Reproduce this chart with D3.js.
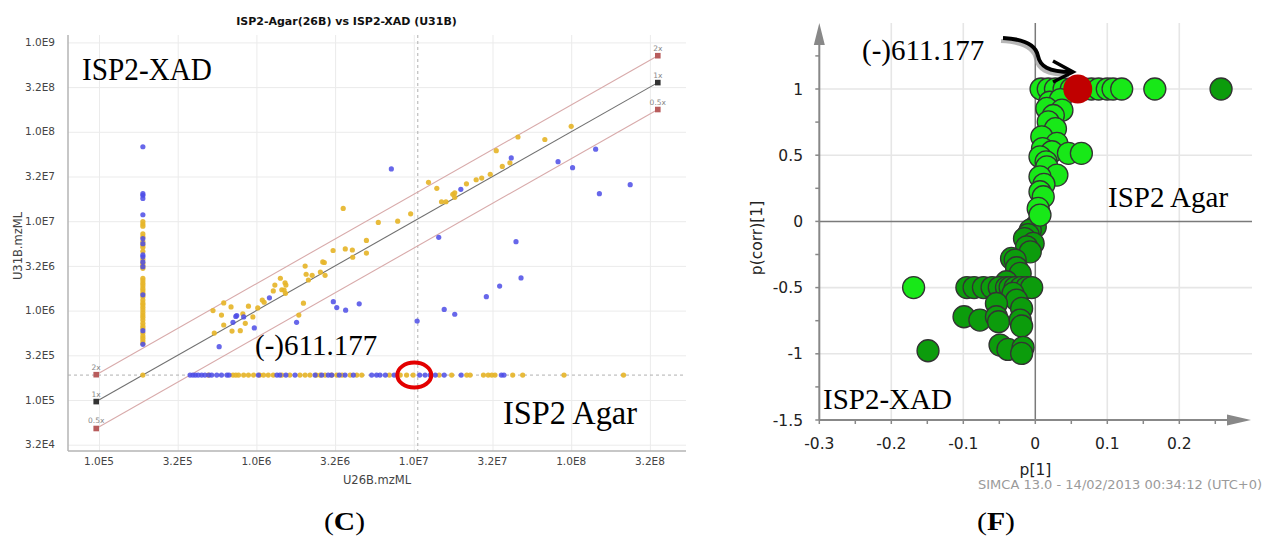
<!DOCTYPE html>
<html><head><meta charset="utf-8">
<script src="https://cdn.jsdelivr.net/npm/d3@7"></script>
<style>body{margin:0;background:#fff;} svg{display:block;}</style>
</head><body>
<svg id="c" width="1270" height="537"></svg>
<script>
// ===== Panel C data (log-log scatter) =====
const titleC = "ISP2-Agar(26B) vs ISP2-XAD (U31B)";
const xTickValues = [1e5, 3.162e5, 1e6, 3.162e6, 1e7, 3.162e7, 1e8, 3.162e8];
const xTickLabels = ["1.0E5","3.2E5","1.0E6","3.2E6","1.0E7","3.2E7","1.0E8","3.2E8"];
const yTickValues = [3.162e4, 1e5, 3.162e5, 1e6, 3.162e6, 1e7, 3.162e7, 1e8, 3.162e8, 1e9];
const yTickLabels = ["3.2E4","1.0E5","3.2E5","1.0E6","3.2E6","1.0E7","3.2E7","1.0E8","3.2E8","1.0E9"];
const floorValue = 1.9e5;          // missing-value floor (dashed horizontal line / column)
const cutoffX = 1.06e7;            // dashed vertical line
const ratios = [2, 1, 0.5];
const ratioLabels = ["2x", "1x", "0.5x"];
const ratioLineStart = 9.6e4, ratioLineEnd = 3.55e8;
const circledX = 1.0e7;            // (-)611.177 highlighted

const yellowColumnY = [9.9e6,9.3e6,8.8e6,7.2e6,6.7e6,5.9e6,5.4e6,5.1e6,4.6e6,3.75e6,3.4e6,3.2e6,2.97e6,2.3e6,2.16e6,2.02e6,1.9e6,1.77e6,1.67e6,1.56e6,1.43e6,1.31e6,1.22e6,1.16e6,1.09e6,1.02e6,9.5e5,8.9e5,8.4e5,7.85e5,7.2e5,6.7e5,6.3e5,5.6e5,5.2e5,4.9e5,4.6e5,4.3e5,1.9e5];
const blueColumnY = [6.8e7,2.03e7,1.95e7,1.8e7,1.18e7,6.4e6,5.6e6,4.2e6,4.0e6,3.5e6,3.1e6,1.5e6,5.96e5,4.2e5];
const yellowRowX = [4.95e5,7.1e5,7.4e5,7.7e5,8.3e5,8.9e5,9.6e5,1.05e6,1.11e6,1.19e6,1.28e6,1.45e6,1.63e6,1.89e6,2.04e6,2.19e6,2.4e6,2.54e6,2.73e6,3.0e6,3.24e6,3.5e6,3.94e6,4.34e6,4.67e6,7.0e6,8.2e6,9.0e6,9.9e6,1.45e7,1.74e7,2.17e7,2.28e7,2.77e7,2.97e7,3.13e7,3.28e7,4.25e7,4.92e7,9.0e7,2.15e8];
const blueRowX = [3.79e5,3.95e5,4.1e5,4.27e5,4.49e5,4.71e5,5.0e5,5.2e5,5.6e5,6.0e5,6.5e5,6.7e5,1.03e6,1.35e6,1.41e6,1.54e6,1.76e6,2.36e6,2.6e6,2.86e6,3.01e6,3.36e6,3.66e6,4.13e6,5.4e6,5.8e6,6.1e6,6.6e6,7.5e6,1.09e7,1.18e7,1.27e7,1.37e7,1.56e7,2.0e7,3.6e7,3.74e7];
const yellowPairs = [[5.3e5,1.0e6],[5.4e5,5.6e5],[6.0e5,8.9e5],[6.2e5,1.22e6],[6.2e5,6.9e5],[6.9e5,1.1e6],[7.0e5,5.9e5],[7.9e5,5.96e5],[8.2e5,9.2e5],[8.5e5,7.2e5],[8.9e5,1.12e6],[9.5e5,8.5e5],[1.02e6,1.07e6],[1.09e6,1.31e6],[1.12e6,1.24e6],[1.28e6,1.66e6],[1.31e6,1.93e6],[1.42e6,2.3e6],[1.45e6,1.71e6],[1.5e6,1.7e6],[1.52e6,2.05e6],[1.54e6,1.93e6],[1.53e6,1.56e6],[1.86e6,8.9e5],[1.99e6,1.21e6],[2.04e6,3.15e6],[2.07e6,2.55e6],[2.14e6,2.2e6],[2.26e6,2.48e6],[2.55e6,2.7e6],[2.64e6,3.5e6],[2.7e6,3.45e6],[2.73e6,2.48e6],[3.07e6,4.7e6],[3.56e6,1.39e7],[3.67e6,4.9e6],[4.07e6,4.76e6],[4.09e6,3.95e6],[5.0e6,6.1e6],[5.0e6,4.4e6],[5.95e6,9.7e6],[7.9e6,1.0e7],[9.55e6,1.21e7],[1.24e7,2.72e7],[1.4e7,2.33e7],[1.5e7,1.65e7],[1.6e7,1.65e7],[1.77e7,2.0e7],[1.82e7,2.08e7],[1.82e7,1.85e7],[2.16e7,2.62e7],[2.49e7,2.91e7],[2.7e7,3.04e7],[3.06e7,3.35e7],[3.34e7,6.15e7],[3.65e7,4.1e7],[4.08e7,4.5e7],[4.59e7,8.75e7],[6.8e7,8.2e7],[1.0e8,1.15e8]];
const bluePairs = [[5.8e5,3.95e5],[7.1e5,7.4e5],[7.4e5,8.6e5],[7.5e5,8.8e5],[8.3e5,8.5e5],[9.7e5,6.4e5],[1.21e6,1.39e6],[1.8e6,7.4e5],[3.08e6,1.26e6],[3.24e6,1.08e6],[3.69e6,1.01e6],[4.5e6,1.19e6],[7.2e6,3.84e7],[1.05e7,7.65e5],[1.44e7,6.6e6],[1.56e7,1.03e6],[1.82e7,9.1e5],[1.99e7,2.27e7],[2.89e7,1.43e6],[3.51e7,1.88e6],[4.16e7,5.1e7],[4.46e7,5.9e6],[4.8e7,2.32e6],[8.25e7,4.63e7],[1.02e8,3.97e7],[1.43e8,6.4e7],[1.51e8,2.03e7],[2.37e8,2.56e7]];

// ===== Panel F data (S-plot) =====
const fXTicks = [-0.3,-0.2,-0.1,0,0.1,0.2];
const fXTickLabels = ["-0.3","-0.2","-0.1","0","0.1","0.2"];
const fYTicks = [-1.5,-1,-0.5,0,0.5,1];
const fYTickLabels = ["-1.5","-1","-0.5","0","0.5","1"];
const fXMinor = [-0.3,-0.25,-0.2,-0.15,-0.1,-0.05,0,0.05,0.1,0.15,0.2,0.25];
const fYMinor = [-1.5,-1.25,-1,-0.75,-0.5,-0.25,0,0.25,0.5,0.75,1,1.25];
const lightP1   = [0.008,0.018,0.028,0.04,0.05,0.068,0.078,0.088,0.1,0.108,0.12,0.166, 0.02,0.035,0.016,0.037,0.025,0.018,0.028,0.009,0.03,0.01,0.023,0.046,0.064,0.0065,0.015,0.016,0.03,0.0065,0.012,0.0065,0.011,0.004,0.0065, -0.169];
const lightPcorr= [1,1,1,1,1,1,1,1,1,1,1,1, 0.9,0.92,0.853,0.84,0.8,0.752,0.7,0.639,0.589,0.55,0.526,0.514,0.514,0.488,0.45,0.412,0.35,0.337,0.28,0.224,0.186,0.098,0.048, -0.5];
const darkP1    = [0.258, 0,-0.007,-0.01,-0.015,-0.003,-0.012,-0.007,-0.033,-0.028,-0.026,-0.021,-0.04, -0.095,-0.085,-0.072,-0.06,-0.05,-0.04,-0.035,-0.028,-0.02,-0.012,-0.005, -0.031,-0.026,-0.054,-0.019,-0.099,-0.077,-0.054,-0.051,-0.021,-0.019,-0.049,-0.038,-0.017,-0.019,-0.149];
const darkPcorr = [1, -0.04,-0.066,-0.1,-0.13,-0.166,-0.192,-0.23,-0.28,-0.292,-0.35,-0.393,-0.456, -0.5,-0.5,-0.5,-0.5,-0.5,-0.5,-0.5,-0.5,-0.5,-0.5,-0.5, -0.544,-0.594,-0.62,-0.657,-0.72,-0.745,-0.72,-0.758,-0.745,-0.79,-0.934,-0.967,-0.952,-0.997,-0.977];
const highlightP1 = [0.059], highlightPcorr = [1];

const svg = d3.select("#c");
const serif = "'Liberation Serif','Times New Roman',serif";
const sans = "'DejaVu Sans',Verdana,sans-serif";

// ================= PANEL C =================
const L = {left:68, right:686, top:35, bottom:451};
const xL = d3.scaleLog().domain([1e5,1e8]).range([99,571.2]);
const yL = d3.scaleLog().domain([1e5,1e9]).range([400,42.4]);
const gC = svg.append("g");

// grid
gC.append("g").attr("transform",`translate(0,${L.bottom})`)
  .call(d3.axisBottom(xL).tickValues(xTickValues).tickFormat("").tickSize(-(L.bottom-L.top)).tickSizeOuter(0))
  .call(g=>{g.select(".domain").remove(); g.selectAll("line").attr("stroke","#ebebeb");});
gC.append("g").attr("transform",`translate(${L.left},0)`)
  .call(d3.axisLeft(yL).tickValues(yTickValues).tickFormat("").tickSize(-(L.right-L.left)).tickSizeOuter(0))
  .call(g=>{g.select(".domain").remove(); g.selectAll("line").attr("stroke","#ebebeb");});

// axis lines
gC.append("line").attr("x1",L.left).attr("x2",L.left).attr("y1",L.top).attr("y2",L.bottom).attr("stroke","#b5b5b5").attr("stroke-width",1.5);
gC.append("line").attr("x1",L.left).attr("x2",L.right).attr("y1",L.bottom).attr("y2",L.bottom).attr("stroke","#b5b5b5").attr("stroke-width",1.5);

// tick labels
gC.selectAll("text.xt").data(xTickValues).join("text").attr("class","xt")
  .attr("x",d=>xL(d)).attr("y",465).attr("text-anchor","middle")
  .attr("font-family",sans).attr("font-size",10.5).attr("fill","#444").text((d,i)=>xTickLabels[i]);
gC.selectAll("text.yt").data(yTickValues).join("text").attr("class","yt")
  .attr("x",55).attr("y",d=>yL(d)).attr("dy","0.35em").attr("text-anchor","end")
  .attr("font-family",sans).attr("font-size",10.5).attr("fill","#444").text((d,i)=>yTickLabels[i]);

// axis titles + title
gC.append("text").attr("x",377).attr("y",484).attr("text-anchor","middle").attr("font-family",sans).attr("font-size",11.5).attr("fill","#444").text("U26B.mzML");
gC.append("text").attr("transform","translate(22,246) rotate(-90)").attr("text-anchor","middle").attr("font-family",sans).attr("font-size",11.5).attr("fill","#444").text("U31B.mzML");
gC.append("text").attr("x",346.5).attr("y",25).attr("text-anchor","middle").attr("font-family",sans).attr("font-weight","bold").attr("font-size",11).attr("fill","#111").text(titleC);

// dashed reference lines
gC.append("line").attr("x1",L.left).attr("x2",L.right).attr("y1",yL(floorValue)).attr("y2",yL(floorValue))
  .attr("stroke","#b0b0b0").attr("stroke-dasharray","3,3");
gC.append("line").attr("x1",xL(cutoffX)).attr("x2",xL(cutoffX)).attr("y1",L.top).attr("y2",L.bottom)
  .attr("stroke","#b0b0b0").attr("stroke-dasharray","3,3");

// ratio lines
const lineColors = ["#d8aaaa","#707070","#d8aaaa"];
const markColors = ["#b85c5c","#333333","#b85c5c"];
ratios.forEach((k,i)=>{
  gC.append("line").attr("x1",xL(ratioLineStart)).attr("y1",yL(k*ratioLineStart))
    .attr("x2",xL(ratioLineEnd)).attr("y2",yL(k*ratioLineEnd)).attr("stroke",lineColors[i]).attr("stroke-width",1.1);
  [ratioLineStart, ratioLineEnd].forEach(xv=>{
    gC.append("rect").attr("x",xL(xv)-2.8).attr("y",yL(k*xv)-2.8).attr("width",5.6).attr("height",5.6).attr("fill",markColors[i]);
    gC.append("text").attr("x",xL(xv)).attr("y",yL(k*xv)-5).attr("text-anchor","middle")
      .attr("font-family",sans).attr("font-size",7.5).attr("fill","#888").text(ratioLabels[i]);
  });
});

// points
const yellowAll = yellowColumnY.map(v=>[floorValue,v]).concat(yellowRowX.map(v=>[v,floorValue])).concat(yellowPairs);
const blueAll = blueColumnY.map(v=>[floorValue,v]).concat(blueRowX.map(v=>[v,floorValue])).concat(bluePairs);
gC.append("g").selectAll("circle").data(yellowAll).join("circle")
  .attr("cx",d=>xL(d[0])).attr("cy",d=>yL(d[1])).attr("r",2.6).attr("fill","#e6b52a").attr("fill-opacity",0.92);
gC.append("g").selectAll("circle").data(blueAll).join("circle")
  .attr("cx",d=>xL(d[0])).attr("cy",d=>yL(d[1])).attr("r",2.6).attr("fill","#4c4ce6").attr("fill-opacity",0.85);

// highlight ellipse
gC.append("ellipse").attr("cx",xL(circledX)+0.5).attr("cy",yL(floorValue)).attr("rx",17).attr("ry",12.5)
  .attr("fill","none").attr("stroke","#e30000").attr("stroke-width",4);

// annotations
gC.append("text").attr("x",82).attr("y",80).attr("font-family",serif).attr("font-size",31).attr("textLength",130).attr("lengthAdjust","spacingAndGlyphs").attr("fill","#000").text("ISP2-XAD");
gC.append("text").attr("x",255).attr("y",355).attr("font-family",serif).attr("font-size",29).attr("fill","#000").text("(-)611.177");
gC.append("text").attr("x",503).attr("y",424).attr("font-family",serif).attr("font-size",33).attr("textLength",134).attr("lengthAdjust","spacingAndGlyphs").attr("fill","#000").text("ISP2 Agar");
const tc = gC.append("text").attr("x",324).attr("y",530).attr("font-family",serif).attr("font-size",25).attr("fill","#000")
  .attr("textLength",41).attr("lengthAdjust","spacingAndGlyphs");
tc.append("tspan").text("(");tc.append("tspan").attr("font-weight","bold").text("C");tc.append("tspan").text(")");

// ================= PANEL F =================
const xF = d3.scaleLinear().domain([-0.3,0.2]).range([819.3,1179.3]);
const yF = d3.scaleLinear().domain([-1.5,1]).range([420,89]);
const F = {left:819.3, right:1252, top:23, bottom:420};
const gF = svg.append("g");

// grid
gF.selectAll("line.gx").data(fXTicks.filter(d=>d!==0 && d!==-0.3)).join("line").attr("class","gx")
  .attr("x1",d=>xF(d)).attr("x2",d=>xF(d)).attr("y1",F.top).attr("y2",F.bottom).attr("stroke","#e6e6e6").attr("stroke-width",1.6);
gF.selectAll("line.gy").data(fYTicks.filter(d=>d!==0 && d!==-1.5)).join("line").attr("class","gy")
  .attr("x1",F.left).attr("x2",F.right).attr("y1",d=>yF(d)).attr("y2",d=>yF(d)).attr("stroke","#e6e6e6").attr("stroke-width",1.6);
// zero lines
gF.append("line").attr("x1",xF(0)).attr("x2",xF(0)).attr("y1",F.top).attr("y2",F.bottom).attr("stroke","#7a7a7a").attr("stroke-width",1.5);
gF.append("line").attr("x1",F.left).attr("x2",F.right).attr("y1",yF(0)).attr("y2",yF(0)).attr("stroke","#7a7a7a").attr("stroke-width",1.5);

// axes with arrows
gF.append("line").attr("x1",F.left).attr("x2",F.left).attr("y1",44).attr("y2",F.bottom).attr("stroke","#888").attr("stroke-width",2);
gF.append("path").attr("d",`M${F.left-5.5},45 L${F.left},23 L${F.left+5.5},45 Z`).attr("fill","#888");
gF.append("line").attr("x1",F.left).attr("x2",1228).attr("y1",F.bottom).attr("y2",F.bottom).attr("stroke","#888").attr("stroke-width",2);
gF.append("path").attr("d",`M1227,${F.bottom-5.5} L1251,${F.bottom} L1227,${F.bottom+5.5} Z`).attr("fill","#888");

// minor ticks
gF.selectAll("line.tx").data(fXMinor).join("line").attr("class","tx")
  .attr("x1",d=>xF(d)).attr("x2",d=>xF(d)).attr("y1",F.bottom).attr("y2",F.bottom+4).attr("stroke","#888").attr("stroke-width",1.5);
gF.selectAll("line.ty").data(fYMinor).join("line").attr("class","ty")
  .attr("x1",F.left-4).attr("x2",F.left).attr("y1",d=>yF(d)).attr("y2",d=>yF(d)).attr("stroke","#888").attr("stroke-width",1.5);

// tick labels
gF.selectAll("text.fx").data(fXTicks).join("text").attr("class","fx")
  .attr("x",d=>xF(d)).attr("y",449).attr("text-anchor","middle").attr("font-family",sans).attr("font-size",15.5).attr("fill","#222")
  .text((d,i)=>fXTickLabels[i]);
gF.selectAll("text.fy").data(fYTicks).join("text").attr("class","fy")
  .attr("x",803).attr("y",d=>yF(d)).attr("dy","0.36em").attr("text-anchor","end").attr("font-family",sans).attr("font-size",15.5).attr("fill","#222")
  .text((d,i)=>fYTickLabels[i]);
gF.append("text").attr("x",1035.5).attr("y",475).attr("text-anchor","middle").attr("font-family",sans).attr("font-size",15.5).attr("fill","#222").text("p[1]");
gF.append("text").attr("transform","translate(762,238) rotate(-90)").attr("text-anchor","middle").attr("font-family",sans).attr("font-size",15.5).attr("fill","#222").text("p(corr)[1]");
gF.append("text").attr("x",1262).attr("y",489).attr("text-anchor","end").attr("font-family",sans).attr("font-size",13).attr("fill","#9a9a9a").text("SIMCA 13.0 - 14/02/2013 00:34:12 (UTC+0)");

// points
const darkData = darkP1.map((v,i)=>[v,darkPcorr[i]]);
const lightData = lightP1.map((v,i)=>[v,lightPcorr[i]]);
gF.append("g").selectAll("circle").data(darkData).join("circle")
  .attr("cx",d=>xF(d[0])).attr("cy",d=>yF(d[1])).attr("r",11).attr("fill","#0c9c0c").attr("stroke","#333").attr("stroke-width",1.3);
gF.append("g").selectAll("circle").data(lightData).join("circle")
  .attr("cx",d=>xF(d[0])).attr("cy",d=>yF(d[1])).attr("r",11).attr("fill","#18e818").attr("stroke","#333").attr("stroke-width",1.3);
gF.append("g").selectAll("circle").data(highlightP1.map((v,i)=>[v,highlightPcorr[i]])).join("circle")
  .attr("cx",d=>xF(d[0])).attr("cy",d=>yF(d[1])).attr("r",14.5).attr("fill","#c00000");

// arrow
const arrowD = "M1003,38 C1025,39 1036,45 1038,56 C1040,66 1048,72 1071,72";
gF.append("path").attr("d",arrowD).attr("transform","translate(-2,3)").attr("fill","none").attr("stroke","#999").attr("stroke-width",4).attr("opacity",0.7);
gF.append("path").attr("d",arrowD).attr("fill","none").attr("stroke","#000").attr("stroke-width",4);
gF.append("path").attr("d","M1053,61 L1073,72 L1053,82").attr("fill","none").attr("stroke","#000").attr("stroke-width",3.5);

// annotations
gF.append("text").attr("x",862).attr("y",60).attr("font-family",serif).attr("font-size",29).attr("fill","#000").text("(-)611.177");
gF.append("text").attr("x",1108).attr("y",207).attr("font-family",serif).attr("font-size",29).attr("fill","#000").text("ISP2 Agar");
gF.append("text").attr("x",823).attr("y",409).attr("font-family",serif).attr("font-size",29).attr("fill","#000").text("ISP2-XAD");
const tf = gF.append("text").attr("x",977).attr("y",530).attr("font-family",serif).attr("font-size",25).attr("fill","#000")
  .attr("textLength",38).attr("lengthAdjust","spacingAndGlyphs");
tf.append("tspan").text("(");tf.append("tspan").attr("font-weight","bold").text("F");tf.append("tspan").text(")");
</script>
</body></html>
